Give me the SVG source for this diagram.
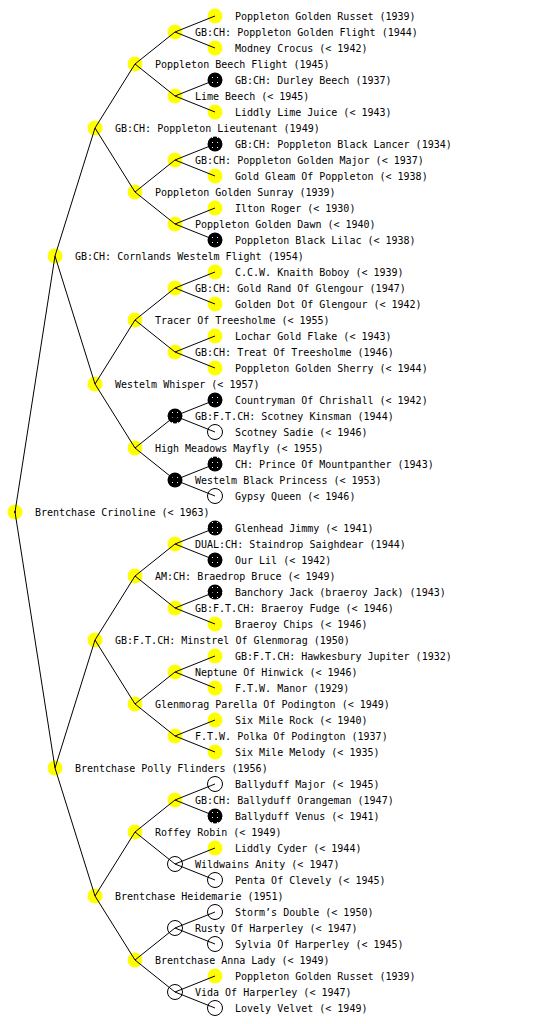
<svg xmlns="http://www.w3.org/2000/svg" width="560" height="1024" viewBox="0 0 560 1024">
<defs>
<pattern id="pb" width="5" height="5" patternUnits="userSpaceOnUse"><rect width="5" height="5" fill="#000"/><rect x="2" y="2" width="1" height="1" fill="#fff"/></pattern>
</defs>
<style>
.y{fill:#ffff00}
.b{fill:url(#pb)}
.w{fill:#fff;stroke:#000;stroke-width:1}
text{font-family:"DejaVu Sans Mono","Liberation Mono",monospace;font-size:10px;fill:#000}
#connectors line{stroke:#000;stroke-width:1}
</style>
<rect width="560" height="1024" fill="#fff"/>
<g id="nodes">
<g id="n1"><circle class="y" cx="15" cy="512" r="7.5"/><circle cx="15" cy="512" r="1" fill="#000"/><text x="35" y="516">Brentchase Crinoline (&lt; 1963)</text></g>
<g id="n2"><circle class="y" cx="55" cy="256" r="7.5"/><text x="75" y="260">GB:CH: Cornlands Westelm Flight (1954)</text></g>
<g id="n3"><circle class="y" cx="55" cy="768" r="7.5"/><text x="75" y="772">Brentchase Polly Flinders (1956)</text></g>
<g id="n4"><circle class="y" cx="95" cy="128" r="7.5"/><text x="115" y="132">GB:CH: Poppleton Lieutenant (1949)</text></g>
<g id="n5"><circle class="y" cx="95" cy="384" r="7.5"/><text x="115" y="388">Westelm Whisper (&lt; 1957)</text></g>
<g id="n6"><circle class="y" cx="95" cy="640" r="7.5"/><text x="115" y="644">GB:F.T.CH: Minstrel Of Glenmorag (1950)</text></g>
<g id="n7"><circle class="y" cx="95" cy="896" r="7.5"/><text x="115" y="900">Brentchase Heidemarie (1951)</text></g>
<g id="n8"><circle class="y" cx="135" cy="64" r="7.5"/><text x="155" y="68">Poppleton Beech Flight (1945)</text></g>
<g id="n9"><circle class="y" cx="135" cy="192" r="7.5"/><text x="155" y="196">Poppleton Golden Sunray (1939)</text></g>
<g id="n10"><circle class="y" cx="135" cy="320" r="7.5"/><text x="155" y="324">Tracer Of Treesholme (&lt; 1955)</text></g>
<g id="n11"><circle class="y" cx="135" cy="448" r="7.5"/><text x="155" y="452">High Meadows Mayfly (&lt; 1955)</text></g>
<g id="n12"><circle class="y" cx="135" cy="576" r="7.5"/><text x="155" y="580">AM:CH: Braedrop Bruce (&lt; 1949)</text></g>
<g id="n13"><circle class="y" cx="135" cy="704" r="7.5"/><text x="155" y="708">Glenmorag Parella Of Podington (&lt; 1949)</text></g>
<g id="n14"><circle class="y" cx="135" cy="832" r="7.5"/><text x="155" y="836">Roffey Robin (&lt; 1949)</text></g>
<g id="n15"><circle class="y" cx="135" cy="960" r="7.5"/><text x="155" y="964">Brentchase Anna Lady (&lt; 1949)</text></g>
<g id="n16"><circle class="y" cx="175" cy="32" r="7.5"/><text x="195" y="36">GB:CH: Poppleton Golden Flight (1944)</text></g>
<g id="n17"><circle class="y" cx="175" cy="96" r="7.5"/><text x="195" y="100">Lime Beech (&lt; 1945)</text></g>
<g id="n18"><circle class="y" cx="175" cy="160" r="7.5"/><text x="195" y="164">GB:CH: Poppleton Golden Major (&lt; 1937)</text></g>
<g id="n19"><circle class="y" cx="175" cy="224" r="7.5"/><text x="195" y="228">Poppleton Golden Dawn (&lt; 1940)</text></g>
<g id="n20"><circle class="y" cx="175" cy="288" r="7.5"/><text x="195" y="292">GB:CH: Gold Rand Of Glengour (1947)</text></g>
<g id="n21"><circle class="y" cx="175" cy="352" r="7.5"/><text x="195" y="356">GB:CH: Treat Of Treesholme (1946)</text></g>
<g id="n22"><circle class="b" cx="175" cy="416" r="7.5"/><text x="195" y="420">GB:F.T.CH: Scotney Kinsman (1944)</text></g>
<g id="n23"><circle class="b" cx="175" cy="480" r="7.5"/><text x="195" y="484">Westelm Black Princess (&lt; 1953)</text></g>
<g id="n24"><circle class="y" cx="175" cy="544" r="7.5"/><text x="195" y="548">DUAL:CH: Staindrop Saighdear (1944)</text></g>
<g id="n25"><circle class="y" cx="175" cy="608" r="7.5"/><text x="195" y="612">GB:F.T.CH: Braeroy Fudge (&lt; 1946)</text></g>
<g id="n26"><circle class="y" cx="175" cy="672" r="7.5"/><text x="195" y="676">Neptune Of Hinwick (&lt; 1946)</text></g>
<g id="n27"><circle class="y" cx="175" cy="736" r="7.5"/><text x="195" y="740">F.T.W. Polka Of Podington (1937)</text></g>
<g id="n28"><circle class="y" cx="175" cy="800" r="7.5"/><text x="195" y="804">GB:CH: Ballyduff Orangeman (1947)</text></g>
<g id="n29"><circle class="w" cx="175" cy="864" r="7.5"/><text x="195" y="868">Wildwains Anity (&lt; 1947)</text></g>
<g id="n30"><circle class="w" cx="175" cy="928" r="7.5"/><text x="195" y="932">Rusty Of Harperley (&lt; 1947)</text></g>
<g id="n31"><circle class="w" cx="175" cy="992" r="7.5"/><text x="195" y="996">Vida Of Harperley (&lt; 1947)</text></g>
<g id="n32"><circle class="y" cx="215" cy="16" r="7.5"/><text x="235" y="20">Poppleton Golden Russet (1939)</text></g>
<g id="n33"><circle class="y" cx="215" cy="48" r="7.5"/><text x="235" y="52">Modney Crocus (&lt; 1942)</text></g>
<g id="n34"><circle class="b" cx="215" cy="80" r="7.5"/><text x="235" y="84">GB:CH: Durley Beech (1937)</text></g>
<g id="n35"><circle class="y" cx="215" cy="112" r="7.5"/><text x="235" y="116">Liddly Lime Juice (&lt; 1943)</text></g>
<g id="n36"><circle class="b" cx="215" cy="144" r="7.5"/><text x="235" y="148">GB:CH: Poppleton Black Lancer (1934)</text></g>
<g id="n37"><circle class="y" cx="215" cy="176" r="7.5"/><text x="235" y="180">Gold Gleam Of Poppleton (&lt; 1938)</text></g>
<g id="n38"><circle class="y" cx="215" cy="208" r="7.5"/><text x="235" y="212">Ilton Roger (&lt; 1930)</text></g>
<g id="n39"><circle class="b" cx="215" cy="240" r="7.5"/><text x="235" y="244">Poppleton Black Lilac (&lt; 1938)</text></g>
<g id="n40"><circle class="y" cx="215" cy="272" r="7.5"/><text x="235" y="276">C.C.W. Knaith Boboy (&lt; 1939)</text></g>
<g id="n41"><circle class="y" cx="215" cy="304" r="7.5"/><text x="235" y="308">Golden Dot Of Glengour (&lt; 1942)</text></g>
<g id="n42"><circle class="y" cx="215" cy="336" r="7.5"/><text x="235" y="340">Lochar Gold Flake (&lt; 1943)</text></g>
<g id="n43"><circle class="y" cx="215" cy="368" r="7.5"/><text x="235" y="372">Poppleton Golden Sherry (&lt; 1944)</text></g>
<g id="n44"><circle class="b" cx="215" cy="400" r="7.5"/><text x="235" y="404">Countryman Of Chrishall (&lt; 1942)</text></g>
<g id="n45"><circle class="w" cx="215" cy="432" r="7.5"/><text x="235" y="436">Scotney Sadie (&lt; 1946)</text></g>
<g id="n46"><circle class="b" cx="215" cy="464" r="7.5"/><text x="235" y="468">CH: Prince Of Mountpanther (1943)</text></g>
<g id="n47"><circle class="w" cx="215" cy="496" r="7.5"/><text x="235" y="500">Gypsy Queen (&lt; 1946)</text></g>
<g id="n48"><circle class="b" cx="215" cy="528" r="7.5"/><text x="235" y="532">Glenhead Jimmy (&lt; 1941)</text></g>
<g id="n49"><circle class="b" cx="215" cy="560" r="7.5"/><text x="235" y="564">Our Lil (&lt; 1942)</text></g>
<g id="n50"><circle class="b" cx="215" cy="592" r="7.5"/><text x="235" y="596">Banchory Jack (braeroy Jack) (1943)</text></g>
<g id="n51"><circle class="y" cx="215" cy="624" r="7.5"/><text x="235" y="628">Braeroy Chips (&lt; 1946)</text></g>
<g id="n52"><circle class="y" cx="215" cy="656" r="7.5"/><text x="235" y="660">GB:F.T.CH: Hawkesbury Jupiter (1932)</text></g>
<g id="n53"><circle class="y" cx="215" cy="688" r="7.5"/><text x="235" y="692">F.T.W. Manor (1929)</text></g>
<g id="n54"><circle class="y" cx="215" cy="720" r="7.5"/><text x="235" y="724">Six Mile Rock (&lt; 1940)</text></g>
<g id="n55"><circle class="y" cx="215" cy="752" r="7.5"/><text x="235" y="756">Six Mile Melody (&lt; 1935)</text></g>
<g id="n56"><circle class="w" cx="215" cy="784" r="7.5"/><text x="235" y="788">Ballyduff Major (&lt; 1945)</text></g>
<g id="n57"><circle class="b" cx="215" cy="816" r="7.5"/><text x="235" y="820">Ballyduff Venus (&lt; 1941)</text></g>
<g id="n58"><circle class="y" cx="215" cy="848" r="7.5"/><text x="235" y="852">Liddly Cyder (&lt; 1944)</text></g>
<g id="n59"><circle class="w" cx="215" cy="880" r="7.5"/><text x="235" y="884">Penta Of Clevely (&lt; 1945)</text></g>
<g id="n60"><circle class="w" cx="215" cy="912" r="7.5"/><text x="235" y="916">Storm’s Double (&lt; 1950)</text></g>
<g id="n61"><circle class="w" cx="215" cy="944" r="7.5"/><text x="235" y="948">Sylvia Of Harperley (&lt; 1945)</text></g>
<g id="n62"><circle class="y" cx="215" cy="976" r="7.5"/><text x="235" y="980">Poppleton Golden Russet (1939)</text></g>
<g id="n63"><circle class="w" cx="215" cy="1008" r="7.5"/><text x="235" y="1012">Lovely Velvet (&lt; 1949)</text></g>
</g>
<g id="connectors">
<line x1="15" y1="512" x2="55" y2="256"/><line x1="15" y1="512" x2="55" y2="768"/>
<line x1="55" y1="256" x2="95" y2="128"/><line x1="55" y1="256" x2="95" y2="384"/>
<line x1="55" y1="768" x2="95" y2="640"/><line x1="55" y1="768" x2="95" y2="896"/>
<line x1="95" y1="128" x2="135" y2="64"/><line x1="95" y1="128" x2="135" y2="192"/>
<line x1="95" y1="384" x2="135" y2="320"/><line x1="95" y1="384" x2="135" y2="448"/>
<line x1="95" y1="640" x2="135" y2="576"/><line x1="95" y1="640" x2="135" y2="704"/>
<line x1="95" y1="896" x2="135" y2="832"/><line x1="95" y1="896" x2="135" y2="960"/>
<line x1="135" y1="64" x2="175" y2="32"/><line x1="135" y1="64" x2="175" y2="96"/>
<line x1="135" y1="192" x2="175" y2="160"/><line x1="135" y1="192" x2="175" y2="224"/>
<line x1="135" y1="320" x2="175" y2="288"/><line x1="135" y1="320" x2="175" y2="352"/>
<line x1="135" y1="448" x2="175" y2="416"/><line x1="135" y1="448" x2="175" y2="480"/>
<line x1="135" y1="576" x2="175" y2="544"/><line x1="135" y1="576" x2="175" y2="608"/>
<line x1="135" y1="704" x2="175" y2="672"/><line x1="135" y1="704" x2="175" y2="736"/>
<line x1="135" y1="832" x2="175" y2="800"/><line x1="135" y1="832" x2="175" y2="864"/>
<line x1="135" y1="960" x2="175" y2="928"/><line x1="135" y1="960" x2="175" y2="992"/>
<line x1="175" y1="32" x2="215" y2="16"/><line x1="175" y1="32" x2="215" y2="48"/>
<line x1="175" y1="96" x2="215" y2="80"/><line x1="175" y1="96" x2="215" y2="112"/>
<line x1="175" y1="160" x2="215" y2="144"/><line x1="175" y1="160" x2="215" y2="176"/>
<line x1="175" y1="224" x2="215" y2="208"/><line x1="175" y1="224" x2="215" y2="240"/>
<line x1="175" y1="288" x2="215" y2="272"/><line x1="175" y1="288" x2="215" y2="304"/>
<line x1="175" y1="352" x2="215" y2="336"/><line x1="175" y1="352" x2="215" y2="368"/>
<line x1="175" y1="416" x2="215" y2="400"/><line x1="175" y1="416" x2="215" y2="432"/>
<line x1="175" y1="480" x2="215" y2="464"/><line x1="175" y1="480" x2="215" y2="496"/>
<line x1="175" y1="544" x2="215" y2="528"/><line x1="175" y1="544" x2="215" y2="560"/>
<line x1="175" y1="608" x2="215" y2="592"/><line x1="175" y1="608" x2="215" y2="624"/>
<line x1="175" y1="672" x2="215" y2="656"/><line x1="175" y1="672" x2="215" y2="688"/>
<line x1="175" y1="736" x2="215" y2="720"/><line x1="175" y1="736" x2="215" y2="752"/>
<line x1="175" y1="800" x2="215" y2="784"/><line x1="175" y1="800" x2="215" y2="816"/>
<line x1="175" y1="864" x2="215" y2="848"/><line x1="175" y1="864" x2="215" y2="880"/>
<line x1="175" y1="928" x2="215" y2="912"/><line x1="175" y1="928" x2="215" y2="944"/>
<line x1="175" y1="992" x2="215" y2="976"/><line x1="175" y1="992" x2="215" y2="1008"/>
</g>
</svg>
